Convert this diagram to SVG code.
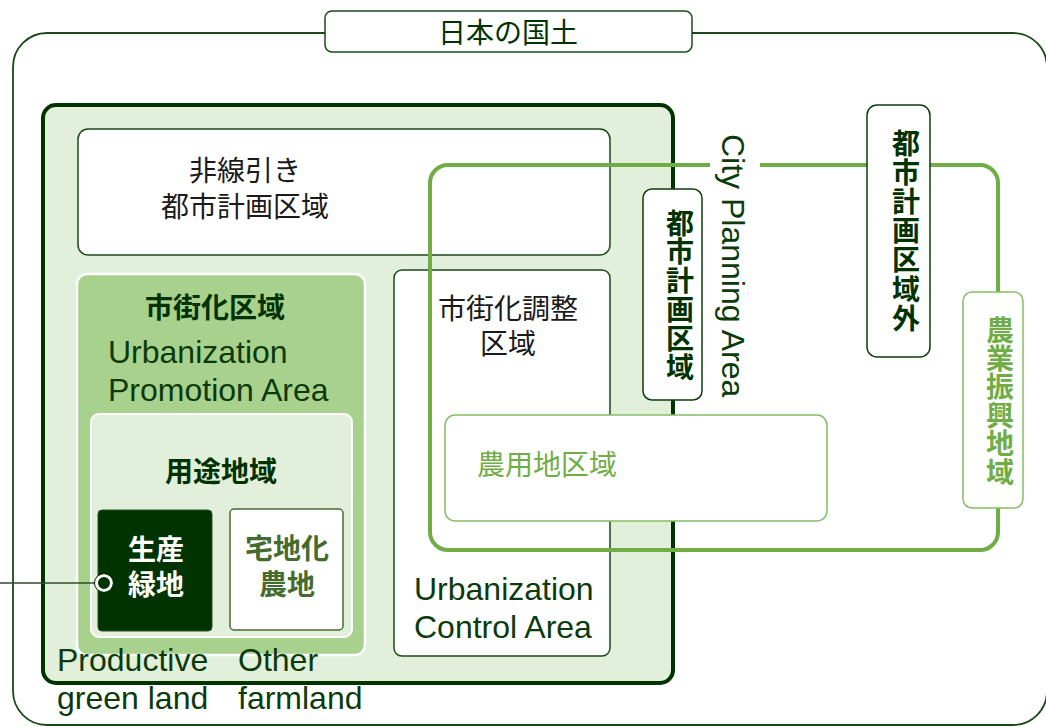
<svg xmlns="http://www.w3.org/2000/svg" width="1046" height="727" viewBox="0 0 1046 727">
<style>
.jp{font-family:"Noto Sans CJK JP","Noto Sans",sans-serif;font-size:28px}
.b{font-weight:bold}
.en{font-family:"Liberation Sans",Arial,sans-serif;font-size:32px;fill:#0b3b0b}
.dk{fill:#003300}
.lg{fill:#70ad47}
.lbl{fill:#fff;stroke:#0d3d0d;stroke-width:1.5}
.mid{text-anchor:middle}
.vt{writing-mode:vertical-rl;text-orientation:upright}
</style>
<rect width="1046" height="727" fill="#fff"/>
<g id="japan">
<rect x="13" y="33" width="1034" height="692" rx="34" fill="none" stroke="#1a4a1a" stroke-width="1.8"/>
<rect x="325" y="11" width="367" height="41" rx="7" fill="#fff" stroke="#1a4a1a" stroke-width="1.5"/>
<text class="jp dk mid" x="508" y="43">日本の国土</text>
</g>
<g id="city-planning-area">
<rect x="43" y="105" width="630" height="578" rx="13" fill="#e2efda" stroke="#003300" stroke-width="4"/>
</g>
<g id="non-delineated">
<rect x="78" y="129" width="532" height="126" rx="10" fill="#fff" stroke="#1a4a1a" stroke-width="1.5"/>
<text class="jp mid" fill="#1a1a1a"><tspan x="245" y="181">非線引き</tspan><tspan x="245" y="217">都市計画区域</tspan></text>
</g>
<g id="urbanization-promotion">
<rect x="77" y="274" width="288" height="381" rx="10" fill="#a9d18e" stroke="#fff" stroke-width="2.5"/>
<text class="jp b dk mid" x="215" y="318">市街化区域</text>
<text class="en"><tspan x="108" y="363">Urbanization</tspan><tspan x="108" y="401">Promotion Area</tspan></text>
</g>
<g id="use-district">
<rect x="91" y="414" width="261" height="223" rx="8" fill="#e2efda" stroke="#fff" stroke-width="2"/>
<text class="jp b dk mid" x="221" y="482">用途地域</text>
</g>
<g id="productive-green">
<rect x="98" y="510" width="114" height="121" rx="4" fill="#003300" stroke="#2c4f2c" stroke-width="1"/>
<text class="jp b mid" fill="#fff"><tspan x="156" y="560">生産</tspan><tspan x="156" y="595">緑地</tspan></text>
</g>
<g id="other-farmland">
<rect x="230" y="509" width="113" height="121" rx="4" fill="#fff" stroke="#4a6b35" stroke-width="1.5"/>
<text class="jp b mid" fill="#466b2e"><tspan x="287" y="559">宅地化</tspan><tspan x="287" y="595">農地</tspan></text>
</g>
<g id="labels-bottom">
<text class="en"><tspan x="57" y="671">Productive</tspan><tspan x="57" y="709">green land</tspan></text>
<text class="en"><tspan x="238" y="671">Other</tspan><tspan x="238" y="709">farmland</tspan></text>
</g>
<g id="urbanization-control">
<rect x="394" y="270" width="216" height="386" rx="8" fill="#fff" stroke="#1a4a1a" stroke-width="1.5"/>
<text class="jp mid" fill="#1a1a1a"><tspan x="508" y="319">市街化調整</tspan><tspan x="508" y="354">区域</tspan></text>
<text class="en"><tspan x="414" y="600">Urbanization</tspan><tspan x="414" y="638">Control Area</tspan></text>
</g>
<g id="farmland-area">
<rect x="445" y="415" width="382" height="106" rx="10" fill="#fff" stroke="#86bd67" stroke-width="1.5"/>
<text class="jp lg" x="477" y="475">農用地区域</text>
</g>
<g id="connectors">
<path d="M760 165 H980 A18 18 0 0 1 998 183 V532 A18 18 0 0 1 980 550 H448 A18 18 0 0 1 430 532 V183 A18 18 0 0 1 448 165 H710" fill="none" stroke="#70ad47" stroke-width="4"/>
<line x1="0" y1="583" x2="96" y2="583" stroke="#2d4d2d" stroke-width="1.5"/>
<circle cx="104" cy="583" r="7.5" fill="#003300" stroke="#fff" stroke-width="3"/>
<circle cx="104" cy="583" r="9.5" fill="none" stroke="#003300" stroke-width="1"/>
</g>
<g id="city-planning-label">
<rect class="lbl" x="643" y="189" width="59" height="211" rx="9"/>
<text class="jp b dk vt" x="680" y="209" letter-spacing="0.8">都市計画区域</text>
<text class="en" transform="translate(722,134) rotate(90)" fill="#0b3b0b">City Planning Area</text>
</g>
<g id="outside-city-planning">
<rect class="lbl" x="867" y="105" width="63" height="252" rx="10"/>
<text class="jp b dk vt" x="906" y="129" letter-spacing="1.2">都市計画区域外</text>
</g>
<g id="agri-promotion">
<rect x="963" y="292" width="60" height="216" rx="9" fill="#fff" stroke="#86bd67" stroke-width="1.5"/>
<text class="jp b lg vt" x="1000" y="316" letter-spacing="0.4">農業振興地域</text>
</g>
</svg>
